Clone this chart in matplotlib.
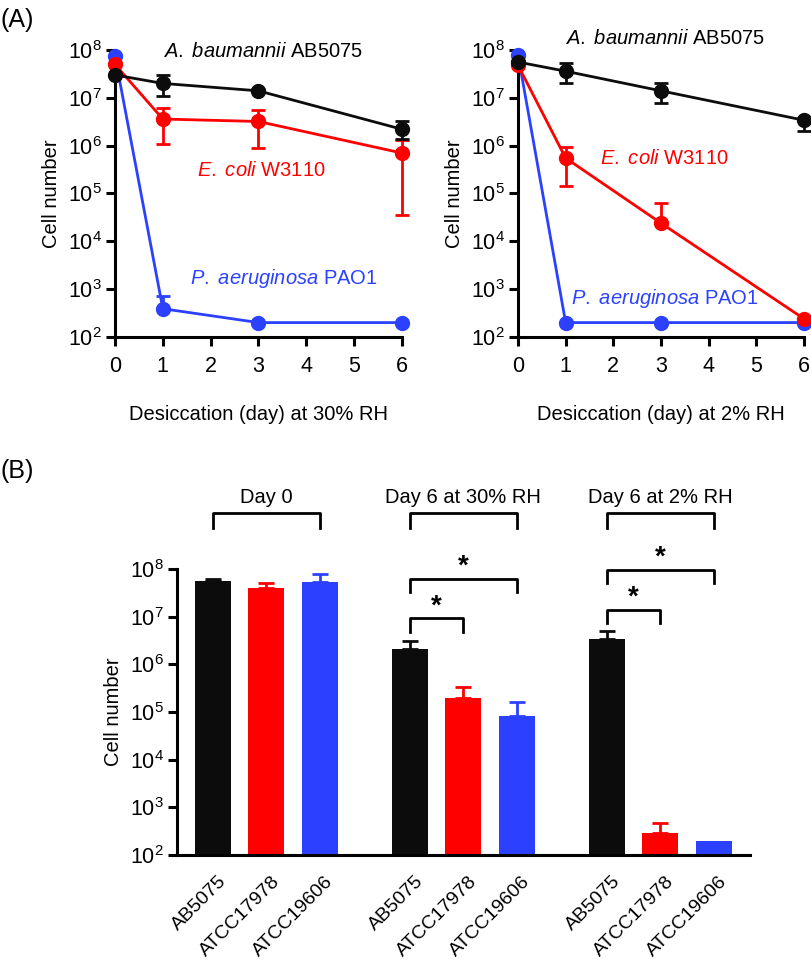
import numpy as np
import matplotlib
matplotlib.use("Agg")
import matplotlib.pyplot as plt
import matplotlib.transforms as mtransforms
from matplotlib.ticker import LogLocator, NullLocator, FixedLocator

plt.rcParams['font.family'] = ['Liberation Sans', 'DejaVu Sans']
plt.rcParams['mathtext.fontset'] = 'custom'
plt.rcParams['mathtext.rm'] = 'Liberation Sans'
plt.rcParams['mathtext.it'] = 'Liberation Sans:italic'

# ---- data, panel A ----
days = [0, 1, 3, 6]

ab_30 = [3.0e7, 2.0e7, 1.4e7, 2.2e6]
ab_30_hi = [3.0e7, 3.0e7, 1.5e7, 3.2e6]
ab_30_lo = [3.0e7, 1.1e7, 1.3e7, 1.4e6]
ec_30 = [5.0e7, 3.6e6, 3.2e6, 7.0e5]
ec_30_hi = [5.0e7, 6.0e6, 5.5e6, 1.3e6]
ec_30_lo = [5.0e7, 1.1e6, 8.8e5, 3.6e4]
pa_30 = [7.5e7, 3.9e2, 2.0e2, 2.0e2]
pa_30_hi = [7.5e7, 7.2e2, 2.0e2, 2.0e2]
pa_30_lo = [7.5e7, 3.9e2, 2.0e2, 2.0e2]

ab_2 = [5.6e7, 3.6e7, 1.4e7, 3.4e6]
ab_2_hi = [6.0e7, 5.3e7, 2.0e7, 3.8e6]
ab_2_lo = [5.2e7, 2.0e7, 7.9e6, 2.0e6]
ec_2 = [4.8e7, 5.5e5, 2.4e4, 2.4e2]
ec_2_hi = [4.8e7, 9.5e5, 6.2e4, 2.4e2]
ec_2_lo = [4.8e7, 1.4e5, 2.4e4, 2.4e2]
pa_2 = [8.0e7, 2.0e2, 2.0e2, 2.0e2]

# ---- data, panel B ----
groups = ["Day 0", "Day 6 at 30% RH", "Day 6 at 2% RH"]
strains = ["AB5075", "ATCC17978", "ATCC19606"]
day0 = [5.7e7, 4.0e7, 5.4e7]
day0_hi = [6.2e7, 5.2e7, 7.9e7]
d6_30 = [2.1e6, 2.0e5, 8.4e4]
d6_30_hi = [3.1e6, 3.3e5, 1.6e5]
d6_2 = [3.4e6, 2.9e2, 2.0e2]
d6_2_hi = [4.9e6, 4.7e2, 2.0e2]

BLACK = '#0c0c0c'
RED = '#ff0000'
BLUE = '#2b41ff'
FS = 14.5


def style_log_axis(ax):
    ax.set_yscale('log')
    ax.set_ylim(1e2, 1e8)
    ax.yaxis.set_major_locator(LogLocator(base=10, numticks=10))
    ax.yaxis.set_minor_locator(NullLocator())
    for s in ['top', 'right']:
        ax.spines[s].set_visible(False)
    for s in ['left', 'bottom']:
        ax.spines[s].set_linewidth(2.2)
    ax.tick_params(width=2.2, length=6.5, labelsize=15.5, pad=3)


def line_series(ax, y, hi, lo, color):
    y = np.array(y)
    err = [y - np.array(lo), np.array(hi) - y]
    ax.errorbar(days, y, yerr=err, color=color, lw=2, marker='o', ms=10,
                capsize=5, capthick=2, elinewidth=2, clip_on=False, zorder=3)


fig = plt.figure(figsize=(8.12, 9.65), dpi=100)

# ---- panel A ----
axL = fig.add_axes([0.1416, 0.6508, 0.3534, 0.2974])
axR = fig.add_axes([0.6379, 0.6508, 0.3522, 0.2974])
for ax, rh in [(axL, '30%'), (axR, '2%')]:
    style_log_axis(ax)
    ax.set_xlim(0, 6)
    ax.xaxis.set_major_locator(FixedLocator(range(7)))
    ax.tick_params(axis='x', pad=7)
    ax.set_xlabel(f'Desiccation (day) at {rh} RH', fontsize=FS, labelpad=20)
    ax.set_ylabel('Cell number', fontsize=FS, labelpad=5)

line_series(axL, pa_30, pa_30_hi, pa_30_lo, BLUE)
line_series(axL, ec_30, ec_30_hi, ec_30_lo, RED)
line_series(axL, ab_30, ab_30_hi, ab_30_lo, BLACK)
line_series(axR, pa_2, pa_2, pa_2, BLUE)
line_series(axR, ec_2, ec_2_hi, ec_2_lo, RED)
line_series(axR, ab_2, ab_2_hi, ab_2_lo, BLACK)

axL.text(1.0, 10**7.96, r'$\it{A.\ baumannii}$ AB5075', fontsize=FS, color='black', va='center')
axL.text(1.71, 10**5.49, r'$\it{E.\ coli}$ W3110', fontsize=FS, color=RED, va='center')
axL.text(1.57, 10**3.23, r'$\it{P.\ aeruginosa}$ PAO1', fontsize=FS, color=BLUE, va='center')
axR.text(0.99, 10**8.25, r'$\it{A.\ baumannii}$ AB5075', fontsize=FS, color='black', va='center')
axR.text(1.72, 10**5.74, r'$\it{E.\ coli}$ W3110', fontsize=FS, color=RED, va='center')
axR.text(1.11, 10**2.81, r'$\it{P.\ aeruginosa}$ PAO1', fontsize=FS, color=BLUE, va='center')

fig.text(0.0, 0.992, '(A)', fontsize=18, va='top')
fig.text(0.0, 0.512, '(B)', fontsize=18, va='center')

# ---- panel B ----
axB = fig.add_axes([0.218, 0.114, 0.7057, 0.2964])
style_log_axis(axB)
pos = np.array([g * 3.68 + i for g in range(3) for i in range(3)])
vals = np.array(day0 + d6_30 + d6_2)
his = np.array(day0_hi + d6_30_hi + d6_2_hi)
colors = [BLACK, RED, BLUE] * 3
axB.bar(pos, vals, width=0.67, color=colors, zorder=2)
for x, v, h, c in zip(pos, vals, his, colors):
    if h > v:
        axB.errorbar([x], [v], yerr=[[0], [h - v]], color=c, capsize=5.5,
                     capthick=2, elinewidth=2, zorder=1)
axB.set_xlim(-0.67, 10.04)
axB.set_xticks(pos)
axB.set_xticklabels(strains * 3, rotation=45, ha='right', rotation_mode='anchor',
                    fontsize=14)
axB.tick_params(axis='x', length=0, pad=13)
shift = mtransforms.ScaledTranslation(5 / 100, 0, fig.dpi_scale_trans)
for lbl in axB.get_xticklabels():
    lbl.set_transform(lbl.get_transform() + shift)
axB.set_ylabel('Cell number', fontsize=FS, labelpad=5)


def bracket(x0, x1, top, legs, star=None, text=None, y_text=None):
    axB.plot([x0, x0, x1, x1], [10**legs, 10**top, 10**top, 10**legs],
             color='black', lw=2, clip_on=False)
    if star is not None:
        axB.text((x0 + x1) / 2, 10**star, '*', ha='center', va='center',
                 fontsize=20, fontweight='bold')
    if text is not None:
        axB.text((x0 + x1) / 2, 10**y_text, text, ha='center', va='center',
                 fontsize=FS)


for g, name in enumerate(groups):
    bracket(pos[3 * g], pos[3 * g + 2], 9.17, 8.86, text=name, y_text=9.5)

bracket(pos[3], pos[4], 6.97, 6.68, star=7.22)
bracket(pos[3], pos[5], 7.79, 7.52, star=8.05)
bracket(pos[6], pos[7], 7.14, 6.87, star=7.40)
bracket(pos[6], pos[8], 7.98, 7.71, star=8.24)

fig.savefig('out.png', dpi=100)
